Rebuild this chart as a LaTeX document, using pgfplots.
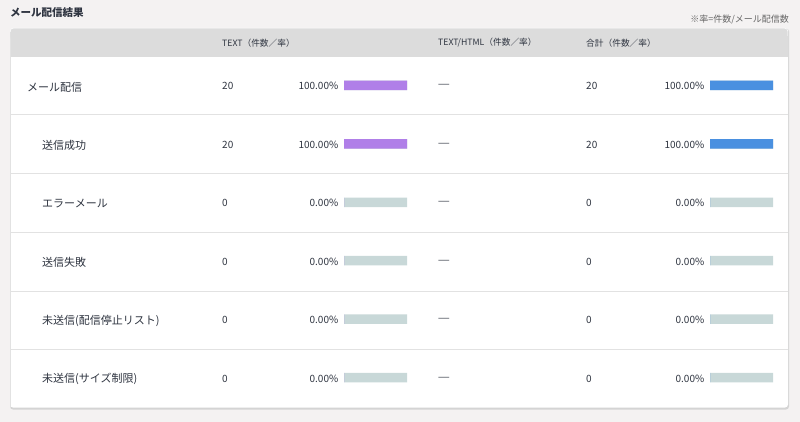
\documentclass[border=0pt]{standalone}
\usepackage{fontspec}
\newfontfamily\jp{Noto Sans CJK JP}
\usepackage{pgfplots}
\pgfplotsset{compat=1.18}

\definecolor{pagebg}{HTML}{F4F2F2}
\definecolor{headbg}{HTML}{DCDCDC}
\definecolor{rule}{HTML}{E2E2E2}
\definecolor{shadow}{HTML}{D4D4D4}
\definecolor{txt}{HTML}{2E3440}
\definecolor{note}{HTML}{666666}
\definecolor{trackc}{HTML}{C8D8D8}
\definecolor{textbar}{HTML}{B07FE8}
\definecolor{sumbar}{HTML}{4A90E0}

% one bar column: 6 rows, values in percent
\pgfplotsset{barcol/.style={
    scale only axis, width=63pt, height=350.4pt,
    xmin=0, xmax=100, ymin=-0.5, ymax=5.5, y dir=reverse,
    hide axis, xbar, bar width=9.5pt}}

\begin{document}
\begin{tikzpicture}[font=\jp, text=txt, every node/.style={inner sep=0pt}]
\begin{axis}[
    at={(0,0)}, anchor=south west,
    scale only axis, width=800pt, height=422pt,
    xmin=0, xmax=800, ymin=0, ymax=422, y dir=reverse,
    hide axis, clip=false]
% page and card
\fill[pagebg] (axis cs:0,0) rectangle (axis cs:800,422);
\fill[shadow, rounded corners=3pt] (axis cs:10,28.5) rectangle (axis cs:789,409.5);
\fill[white, rounded corners=3pt] (axis cs:10,28) rectangle (axis cs:788,407.5);
\draw[rule] (axis cs:10.5,32) -- (axis cs:10.5,407.5);
\fill[headbg, rounded corners=3pt] (axis cs:10.5,28.5) rectangle (axis cs:787.5,40);
\fill[headbg] (axis cs:10.5,36) rectangle (axis cs:787.5,57);
\pgfplotsinvokeforeach{115,174,232,291,349}{
  \draw[rule, line width=1pt] (axis cs:10.5,#1) -- (axis cs:787.5,#1);}

% titles
\node[anchor=west, font=\jp\fontsize{10.5}{12}\selectfont\bfseries] at (axis cs:10,13) {メール配信結果};
\node[anchor=east, text=note, font=\jp\fontsize{9}{11}\selectfont] at (axis cs:789,20) {※率=件数/メール配信数};

% header
\node[anchor=west, font=\jp\fontsize{8.7}{10}\selectfont] at (axis cs:222,43) {TEXT（件数／率）};
\node[anchor=west, font=\jp\fontsize{8.7}{10}\selectfont] at (axis cs:438,43) {TEXT/HTML（件数／率）};
\node[anchor=west, font=\jp\fontsize{8.7}{10}\selectfont] at (axis cs:586,43) {合計（件数／率）};

% row labels
\node[anchor=west, font=\jp\fontsize{11}{13}\selectfont] at (axis cs:27,87) {メール配信};
\node[anchor=west, font=\jp\fontsize{11}{13}\selectfont] at (axis cs:42,145) {送信成功};
\node[anchor=west, font=\jp\fontsize{11}{13}\selectfont] at (axis cs:42,204) {エラーメール};
\node[anchor=west, font=\jp\fontsize{11}{13}\selectfont] at (axis cs:42,262) {送信失敗};
\node[anchor=west, font=\jp\fontsize{11}{13}\selectfont] at (axis cs:42,321) {未送信(配信停止リスト)};
\node[anchor=west, font=\jp\fontsize{11}{13}\selectfont] at (axis cs:42,379) {未送信(サイズ制限)};

% values
\pgfplotsset{every node/.append style={font=\jp\fontsize{9.5}{11}\selectfont}}
\node[anchor=west] at (axis cs:222,86) {20};
\node[anchor=west] at (axis cs:222,144.5) {20};
\node[anchor=west] at (axis cs:222,203) {0};
\node[anchor=west] at (axis cs:222,261.5) {0};
\node[anchor=west] at (axis cs:222,320) {0};
\node[anchor=west] at (axis cs:222,378.5) {0};
\node[anchor=east] at (axis cs:338.5,86) {100.00\%};
\node[anchor=east] at (axis cs:338.5,144.5) {100.00\%};
\node[anchor=east] at (axis cs:338.5,203) {0.00\%};
\node[anchor=east] at (axis cs:338.5,261.5) {0.00\%};
\node[anchor=east] at (axis cs:338.5,320) {0.00\%};
\node[anchor=east] at (axis cs:338.5,378.5) {0.00\%};
\pgfplotsinvokeforeach{86,144.5,203,261.5,320,378.5}{
  \node[anchor=west, font=\jp\fontsize{10}{11}\selectfont, xscale=1.35] at (axis cs:437.5,#1) {—};}
\node[anchor=west] at (axis cs:586,86) {20};
\node[anchor=west] at (axis cs:586,144.5) {20};
\node[anchor=west] at (axis cs:586,203) {0};
\node[anchor=west] at (axis cs:586,261.5) {0};
\node[anchor=west] at (axis cs:586,320) {0};
\node[anchor=west] at (axis cs:586,378.5) {0};
\node[anchor=east] at (axis cs:704.5,86) {100.00\%};
\node[anchor=east] at (axis cs:704.5,144.5) {100.00\%};
\node[anchor=east] at (axis cs:704.5,203) {0.00\%};
\node[anchor=east] at (axis cs:704.5,261.5) {0.00\%};
\node[anchor=east] at (axis cs:704.5,320) {0.00\%};
\node[anchor=east] at (axis cs:704.5,378.5) {0.00\%};
\end{axis}

% TEXT rate bars
\begin{axis}[barcol, at={(344pt,15.3pt)}, anchor=south west]
\addplot[fill=trackc, draw=none, bar shift=0pt] coordinates {(100,0) (100,1) (100,2) (100,3) (100,4) (100,5)};
\addplot[fill=textbar, draw=none, bar shift=0pt] coordinates {(100,0) (100,1) (0,2) (0,3) (0,4) (0,5)};
\end{axis}

% total rate bars
\begin{axis}[barcol, at={(710pt,15.3pt)}, anchor=south west]
\addplot[fill=trackc, draw=none, bar shift=0pt] coordinates {(100,0) (100,1) (100,2) (100,3) (100,4) (100,5)};
\addplot[fill=sumbar, draw=none, bar shift=0pt] coordinates {(100,0) (100,1) (0,2) (0,3) (0,4) (0,5)};
\end{axis}
\end{tikzpicture}
\end{document}
